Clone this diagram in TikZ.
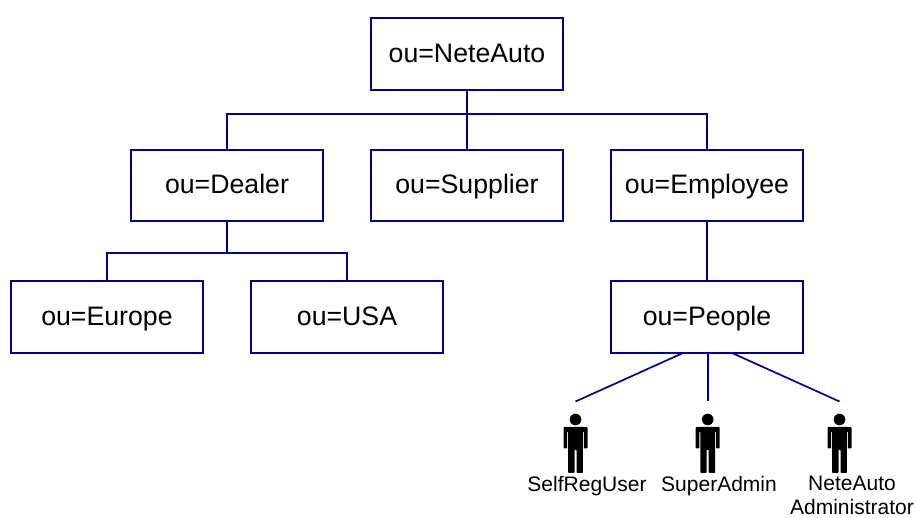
\documentclass[tikz,border=0pt]{standalone}
\usepackage{fontspec}
\setmainfont{Liberation Sans}
\definecolor{navyline}{RGB}{0,0,135}
\tikzset{
  x=1pt,y=-1pt,
  oubox/.style={draw=navyline,line width=1.7pt,fill=white,minimum width=192pt,minimum height=71.5pt,inner sep=0pt,text height=21pt,text depth=4pt,font=\fontsize{26.7}{30}\selectfont,text=black},
  link/.style={draw=navyline,line width=1.7pt},
  whom/.style={inner sep=0pt,align=center,anchor=north,text=black,font=\fontsize{21}{24}\selectfont},
  person/.pic={
    \fill[black] (0,6) circle[radius=5.8];
    \fill[black,rounded corners=0.8pt] (-12,13.5) -- (12,13.5) -- (12,35) -- (8.4,35) -- (8.4,18) -- (7.4,18) -- (7.4,59.5) -- (1,59.5) -- (1,36) -- (-1,36) -- (-1,59.5) -- (-7.4,59.5) -- (-7.4,18) -- (-8.4,18) -- (-8.4,35) -- (-12,35) -- cycle;
  }
}
\begin{document}
\begin{tikzpicture}
\useasboundingbox (0,0) rectangle (916,518);
\node[oubox] (root) at (467,54) {ou=NeteAuto};
\node[oubox] (dealer) at (227,185.5) {ou=Dealer};
\node[oubox] (supplier) at (467,185.5) {ou=Supplier};
\node[oubox] (employee) at (707,185.5) {ou=Employee};
\node[oubox] (europe) at (107,317) {ou=Europe};
\node[oubox] (usa) at (347,317) {ou=USA};
\node[oubox] (people) at (707,317) {ou=People};
\coordinate (bustop) at (467,114);
\coordinate (busdealer) at (227,253);
\coordinate (e1) at (575.5,401.5);
\coordinate (e2) at (707.7,401.5);
\coordinate (e3) at (839.5,401.5);
\coordinate (s1) at (683,353);
\coordinate (s2) at (707.7,353);
\coordinate (s3) at (732,353);
\draw[link] (root) -- (supplier);
\draw[link] (dealer.north) |- (bustop) -| (employee.north);
\draw[link] (dealer) -- (busdealer);
\draw[link] (europe.north) |- (busdealer) -| (usa.north);
\draw[link] (employee) -- (people);
\draw[link] (s1) -- (e1);
\draw[link] (s2) -- (e2);
\draw[link] (s3) -- (e3);
\pic at (575.5,413.5) {person};
\pic at (707.7,413.5) {person};
\pic at (839.5,413.5) {person};
\node[whom] (n1) at (587,476) {SelfRegUser};
\node[whom] (n2) at (719,476) {SuperAdmin};
\node[whom] (n3) at (852,476) {NeteAuto\\Administrator};
\end{tikzpicture}
\end{document}
